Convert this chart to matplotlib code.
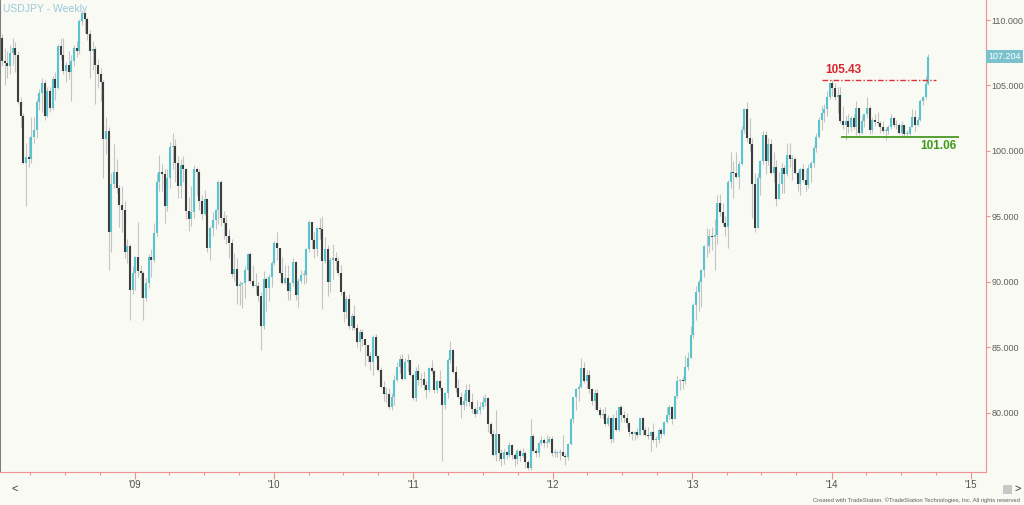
import numpy as np
import pandas as pd
import matplotlib
matplotlib.use("Agg")
import matplotlib.pyplot as plt
import matplotlib.dates as mdates
from matplotlib.ticker import FixedLocator, FuncFormatter

# weekly USDJPY bars (week ending Friday)
first_week = "2008-01-18"

opens = [
    # 2008
    108.6, 106.9, 106.7, 106.5, 107.5, 107.9, 107.3, 103.7, 102.7, 99.1, 99.5, 99.4, 101.1, 101.6, 103.7, 104.4, 105.2,
    102.7, 104.6, 103.3, 105.5, 104.8, 108.0, 107.3, 106.1, 106.6, 106.0, 106.9, 107.9, 107.6, 109.9, 110.5, 110.1,
    108.9, 107.6, 107.8, 106.6, 105.9, 105.3, 100.9, 101.5, 93.8, 97.5, 98.4, 97.2, 95.9, 95.5, 92.3, 92.7, 89.4,
    # 2009
    90.7, 91.9, 90.8, 90.7, 88.8, 89.9, 91.9, 91.7, 93.7, 97.6, 98.4, 98.2, 95.8, 97.9, 100.3, 100.4, 99.1, 97.3,
    98.9, 98.6, 95.4, 94.8, 95.3, 98.6, 98.4, 96.2, 95.2, 96.3, 92.6, 94.1, 94.7, 95.5, 97.6, 94.9, 94.5, 93.5, 93.0,
    90.6, 91.0, 89.7, 89.8, 89.9, 90.9, 92.1, 90.1, 89.7, 89.7, 88.9, 86.6, 90.2, 89.5, 90.4,
    # 2010
    91.4, 93.0, 92.6, 90.7, 89.9, 90.3, 89.3, 89.9, 91.5, 89.0, 90.1, 90.5, 90.5, 92.5, 94.6, 93.2, 92.5, 94.1, 94.0,
    91.6, 92.5, 90.0, 91.7, 91.8, 91.6, 90.7, 89.2, 87.7, 88.7, 86.6, 87.4, 86.5, 85.4, 86.2, 85.6, 85.2, 84.3, 83.9,
    85.8, 84.3, 83.3, 82.0, 81.4, 81.4, 80.4, 81.2, 82.5, 83.5, 84.1, 82.6, 83.9, 84.0, 82.9,
    # 2011
    81.1, 83.2, 82.5, 82.6, 82.1, 81.7, 83.4, 83.2, 81.7, 82.4, 81.9, 80.6, 81.5, 84.0, 84.8, 83.1, 81.9, 81.2, 80.6,
    80.9, 81.7, 80.8, 80.3, 79.9, 80.2, 80.4, 80.8, 81.1, 79.1, 78.4, 76.8, 78.4, 76.9, 76.5, 77.0, 76.8, 77.5, 76.8,
    76.5, 77.1, 76.7, 76.9, 76.2, 75.8, 78.2, 77.1, 76.9, 77.7, 77.9, 77.7, 77.8, 78.0,
    # 2012
    76.9, 76.9, 76.9, 77.0, 76.7, 76.6, 77.6, 79.5, 81.2, 81.8, 82.0, 83.4, 82.4, 82.9, 81.8, 80.9, 81.5, 80.2, 79.8,
    79.9, 79.1, 79.6, 78.0, 79.6, 78.7, 80.4, 79.8, 79.6, 79.2, 78.5, 78.4, 78.5, 78.3, 79.6, 78.7, 78.3, 78.2, 78.5,
    77.9, 77.9, 78.7, 78.4, 79.3, 79.8, 80.4, 79.5, 81.3, 82.4, 82.5, 82.4, 83.5, 84.2,
    # 2013
    85.9, 88.2, 89.2, 90.0, 90.9, 92.7, 92.7, 93.5, 93.4, 93.6, 96.0, 95.3, 94.5, 94.2, 97.6, 98.4, 98.3, 98.0, 99.0,
    101.6, 103.2, 101.0, 100.5, 97.5, 94.1, 97.9, 99.2, 101.2, 99.2, 100.5, 98.3, 98.8, 96.3, 97.5, 98.7, 98.2, 99.7,
    99.4, 99.4, 98.3, 97.5, 98.6, 97.8, 97.4, 98.7, 99.1, 100.2, 101.1, 102.4, 102.9, 103.2, 104.1,
    # 2014
    105.2, 104.8, 104.1, 104.3, 102.3, 102.0, 102.3, 101.8, 102.5, 101.8, 103.3, 101.4, 102.3, 102.8, 103.3, 101.6,
    102.4, 102.2, 102.1, 101.8, 101.5, 101.5, 101.8, 102.5, 102.0, 102.0, 101.4, 102.0, 101.3, 101.3, 101.8, 102.6,
    102.0, 102.4, 103.8, 104.1, 105.1,
]

highs = [
    # 2008
    108.9, 107.9, 107.6, 108.1, 108.6, 108.3, 107.6, 104.1, 102.9, 100.6, 101.1, 102.6, 102.6, 104.0, 104.7, 105.6, 105.4,
    104.9, 104.9, 105.7, 106.0, 108.2, 108.6, 108.6, 106.8, 107.6, 107.3, 108.1, 108.4, 110.1, 110.7, 110.6, 110.2,
    109.2, 108.4, 108.0, 107.0, 106.3, 105.4, 102.6, 101.8, 98.3, 100.5, 99.4, 97.4, 97.3, 96.2, 93.3, 92.9, 91.2,
    # 2009
    92.0, 94.6, 91.3, 90.8, 90.3, 92.1, 92.5, 94.5, 98.3, 99.7, 99.0, 98.6, 98.6, 100.7, 101.4, 100.9, 99.6, 99.4,
    99.6, 98.7, 96.5, 97.3, 98.9, 98.8, 98.6, 96.6, 97.0, 96.4, 94.3, 95.3, 95.6, 97.8, 97.8, 95.4, 95.1, 94.0, 93.3,
    92.2, 91.8, 90.1, 90.0, 91.2, 92.2, 92.3, 91.3, 90.7, 90.0, 89.2, 90.8, 90.4, 90.6, 91.6,
    # 2010
    93.1, 93.8, 92.6, 91.9, 91.3, 91.3, 90.0, 91.8, 91.6, 90.3, 90.9, 90.9, 92.6, 94.7, 94.6, 93.8, 94.2, 94.9, 95.0,
    93.4, 92.8, 91.9, 92.9, 92.3, 91.9, 91.3, 89.4, 88.9, 89.1, 87.6, 88.2, 86.8, 86.4, 86.4, 85.6, 85.2, 84.6, 85.9,
    86.0, 84.4, 83.5, 82.4, 82.0, 81.9, 81.5, 82.9, 83.9, 84.4, 84.5, 84.2, 84.5, 84.0, 83.0,
    # 2011
    83.5, 83.7, 83.0, 83.2, 82.4, 83.5, 84.0, 83.3, 82.5, 83.3, 82.0, 81.6, 84.2, 85.5, 84.9, 83.6, 82.6, 81.6, 81.5,
    82.2, 82.2, 81.5, 80.4, 81.0, 80.8, 81.3, 81.4, 81.2, 79.3, 78.7, 80.2, 78.3, 77.2, 77.2, 77.0, 77.8, 77.6, 76.9,
    77.2, 77.2, 77.3, 77.1, 76.4, 79.5, 78.4, 77.3, 77.8, 78.2, 78.1, 78.3, 78.2, 78.2,
    # 2012
    77.2, 77.1, 77.2, 78.3, 76.9, 77.7, 79.6, 81.2, 81.9, 82.2, 84.2, 83.9, 83.3, 83.3, 81.9, 81.8, 81.8, 80.4, 80.3,
    80.4, 79.8, 79.7, 79.9, 80.2, 80.5, 80.6, 80.1, 80.0, 79.3, 78.6, 78.6, 78.8, 79.6, 79.7, 78.9, 78.9, 78.6, 79.2,
    78.2, 78.8, 78.8, 79.4, 80.4, 80.6, 80.5, 81.3, 82.8, 82.6, 82.8, 84.4, 84.6, 86.6,
    # 2013
    88.4, 89.7, 90.2, 91.0, 92.8, 94.1, 94.0, 94.2, 94.8, 96.6, 96.7, 96.0, 95.0, 97.8, 99.9, 99.2, 99.9, 99.2, 101.9,
    103.3, 103.7, 102.5, 101.0, 98.3, 98.3, 99.3, 101.5, 101.5, 101.0, 100.9, 99.9, 99.3, 98.4, 99.1, 98.9, 100.6,
    100.6, 99.7, 99.5, 98.5, 98.7, 99.0, 98.6, 99.0, 99.2, 100.4, 101.4, 102.6, 103.4, 103.6, 104.6, 105.2,
    # 2014
    105.43, 105.2, 104.9, 104.9, 103.4, 102.7, 102.8, 102.7, 102.8, 103.8, 103.2, 102.7, 102.8, 104.1, 103.4, 102.6,
    102.8, 103.0, 102.3, 102.3, 101.8, 102.0, 102.8, 102.6, 102.4, 102.1, 102.3, 102.0, 101.6, 101.9, 103.2, 103.1,
    102.6, 104.0, 104.2, 105.7, 107.4,
]

lows = [
    # 2008
    106.5, 105.0, 105.6, 105.9, 106.6, 106.0, 103.6, 101.8, 99.0, 95.8, 98.8, 99.1, 100.6, 101.0, 103.1, 103.0, 102.4,
    102.6, 103.0, 103.1, 103.9, 104.7, 107.0, 105.9, 105.3, 105.5, 103.8, 106.5, 107.2, 107.4, 109.6, 109.0, 108.5,
    105.6, 106.2, 103.6, 104.8, 103.8, 97.9, 99.8, 90.9, 92.3, 97.2, 96.8, 94.2, 93.8, 91.8, 91.4, 87.1, 89.1,
    # 2009
    89.4, 90.4, 88.8, 87.1, 88.5, 89.5, 90.4, 91.5, 93.4, 96.9, 96.9, 94.5, 95.4, 97.2, 98.6, 97.6, 96.4, 96.4, 97.6,
    94.8, 93.9, 94.3, 94.9, 96.6, 95.5, 94.8, 95.1, 92.3, 91.7, 93.5, 94.0, 94.4, 94.3, 93.3, 92.9, 91.8, 90.4, 90.1,
    88.3, 88.2, 88.0, 88.8, 90.1, 89.9, 89.6, 89.1, 88.5, 84.8, 86.4, 87.8, 88.5, 89.6,
    # 2010
    91.3, 91.7, 90.6, 89.8, 89.8, 88.6, 88.6, 89.7, 88.6, 88.1, 89.9, 89.8, 89.9, 92.3, 92.5, 91.8, 92.0, 93.3, 87.9,
    91.4, 88.9, 89.2, 90.2, 90.9, 90.5, 89.0, 86.9, 87.2, 86.4, 86.3, 86.3, 85.0, 84.7, 85.1, 83.6, 83.9, 83.3, 82.9,
    84.2, 83.2, 81.9, 80.9, 80.8, 80.3, 80.2, 80.6, 82.4, 83.0, 82.5, 82.6, 83.2, 82.8, 81.0,
    # 2011
    80.9, 82.1, 82.0, 81.7, 81.1, 81.6, 83.0, 81.5, 81.5, 81.7, 76.3, 80.3, 81.1, 83.8, 83.0, 81.6, 81.1, 79.6, 80.2,
    80.5, 80.5, 80.0, 79.7, 80.0, 79.9, 80.3, 80.5, 78.5, 78.2, 76.7, 76.3, 76.3, 75.9, 76.1, 76.5, 76.6, 76.5, 75.9,
    76.1, 76.3, 76.6, 75.8, 75.6, 75.6, 77.0, 76.6, 76.6, 77.5, 77.4, 77.4, 77.7, 76.7,
    # 2012
    76.6, 76.6, 76.4, 76.7, 76.0, 76.4, 77.5, 79.2, 80.2, 80.9, 81.9, 82.3, 81.9, 81.5, 80.6, 80.3, 80.1, 79.6, 79.5,
    79.0, 79.0, 77.7, 77.8, 78.6, 78.6, 79.3, 79.3, 78.9, 78.2, 77.9, 77.9, 78.1, 78.3, 78.3, 78.2, 78.0, 77.1, 77.8,
    77.4, 77.7, 78.1, 78.3, 79.2, 79.5, 79.1, 79.5, 81.1, 81.7, 81.8, 82.2, 83.3, 84.2,
    # 2013
    85.7, 87.1, 87.8, 88.1, 90.4, 91.9, 92.2, 92.4, 90.9, 92.9, 95.0, 94.3, 93.5, 92.6, 97.2, 96.4, 97.9, 97.1, 98.9,
    101.4, 100.7, 100.0, 94.9, 93.8, 94.1, 96.6, 99.0, 98.2, 98.9, 98.2, 97.6, 95.8, 96.3, 96.8, 96.8, 98.1, 98.8,
    97.8, 98.2, 96.9, 96.6, 97.6, 96.9, 97.2, 97.6, 98.8, 99.9, 101.0, 101.6, 102.2, 102.7, 104.0,
    # 2014
    104.2, 103.9, 102.9, 102.1, 101.7, 100.8, 101.4, 101.5, 101.7, 101.2, 101.2, 101.3, 101.8, 102.6, 101.3, 101.4,
    101.9, 102.0, 101.4, 101.4, 100.8, 101.3, 101.7, 101.8, 101.7, 101.3, 101.2, 101.1, 101.1, 101.2, 101.8, 101.5,
    101.9, 102.3, 103.5, 104.0, 105.0,
]

closes = [
    # 2008
    106.9, 106.7, 106.5, 107.5, 107.9, 107.3, 103.7, 102.7, 99.1, 99.5, 99.4, 101.1, 101.6, 103.7, 104.4, 105.2, 102.7,
    104.6, 103.3, 105.5, 104.8, 108.0, 107.3, 106.1, 106.6, 106.0, 106.9, 107.9, 107.6, 109.9, 110.5, 110.1, 108.9,
    107.6, 107.8, 106.6, 105.9, 105.3, 100.9, 101.5, 93.8, 97.5, 98.4, 97.2, 95.9, 95.5, 92.3, 92.7, 89.4, 90.7,
    # 2009
    91.9, 90.8, 90.7, 88.8, 89.9, 91.9, 91.7, 93.7, 97.6, 98.4, 98.2, 95.8, 97.9, 100.3, 100.4, 99.1, 97.3, 98.9,
    98.6, 95.4, 94.8, 95.3, 98.6, 98.4, 96.2, 95.2, 96.3, 92.6, 94.1, 94.7, 95.5, 97.6, 94.9, 94.5, 93.5, 93.0, 90.6,
    91.0, 89.7, 89.8, 89.9, 90.9, 92.1, 90.1, 89.7, 89.7, 88.9, 86.6, 90.2, 89.5, 90.4, 91.4,
    # 2010
    93.0, 92.6, 90.7, 89.9, 90.3, 89.3, 89.9, 91.5, 89.0, 90.1, 90.5, 90.5, 92.5, 94.6, 93.2, 92.5, 94.1, 94.0, 91.6,
    92.5, 90.0, 91.7, 91.8, 91.6, 90.7, 89.2, 87.7, 88.7, 86.6, 87.4, 86.5, 85.4, 86.2, 85.6, 85.2, 84.3, 83.9, 85.8,
    84.3, 83.3, 82.0, 81.4, 81.4, 80.4, 81.2, 82.5, 83.5, 84.1, 82.6, 83.9, 84.0, 82.9, 81.1,
    # 2011
    83.2, 82.5, 82.6, 82.1, 81.7, 83.4, 83.2, 81.7, 82.4, 81.9, 80.6, 81.5, 84.0, 84.8, 83.1, 81.9, 81.2, 80.6, 80.9,
    81.7, 80.8, 80.3, 79.9, 80.2, 80.4, 80.8, 81.1, 79.1, 78.4, 76.8, 78.4, 76.9, 76.5, 77.0, 76.8, 77.5, 76.8, 76.5,
    77.1, 76.7, 76.9, 76.2, 75.8, 78.2, 77.1, 76.9, 77.7, 77.9, 77.7, 77.8, 78.0, 76.9,
    # 2012
    76.9, 76.9, 77.0, 76.7, 76.6, 77.6, 79.5, 81.2, 81.8, 82.0, 83.4, 82.4, 82.9, 81.8, 80.9, 81.5, 80.2, 79.8, 79.9,
    79.1, 79.6, 78.0, 79.6, 78.7, 80.4, 79.8, 79.6, 79.2, 78.5, 78.4, 78.5, 78.3, 79.6, 78.7, 78.3, 78.2, 78.5, 77.9,
    77.9, 78.7, 78.4, 79.3, 79.8, 80.4, 79.5, 81.3, 82.4, 82.5, 82.4, 83.5, 84.2, 85.9,
    # 2013
    88.2, 89.2, 90.0, 90.9, 92.7, 92.7, 93.5, 93.4, 93.6, 96.0, 95.3, 94.5, 94.2, 97.6, 98.4, 98.3, 98.0, 99.0, 101.6,
    103.2, 101.0, 100.5, 97.5, 94.1, 97.9, 99.2, 101.2, 99.2, 100.5, 98.3, 98.8, 96.3, 97.5, 98.7, 98.2, 99.7, 99.4,
    99.4, 98.3, 97.5, 98.6, 97.8, 97.4, 98.7, 99.1, 100.2, 101.1, 102.4, 102.9, 103.2, 104.1, 105.2,
    # 2014
    104.8, 104.1, 104.3, 102.3, 102.0, 102.3, 101.8, 102.5, 101.8, 103.3, 101.4, 102.3, 102.8, 103.3, 101.6, 102.4,
    102.2, 102.1, 101.8, 101.5, 101.5, 101.8, 102.5, 102.0, 102.0, 101.4, 102.0, 101.3, 101.3, 101.8, 102.6, 102.0,
    102.4, 103.8, 104.1, 105.1, 107.204,
]

# drawn levels
resistance = 105.43
resistance_span = ("2013-12-07", "2014-10-02")
support = 101.06
support_span = ("2014-01-28", "2014-11-29")

year_ticks = ["2009-01-01", "2010-01-01", "2011-01-01", "2012-01-01", "2013-01-01", "2014-01-01", "2015-01-01"]
year_labels = ["'09", "'10", "'11", "'12", "'13", "'14", "'15"]
price_ticks = [80, 85, 90, 95, 100, 105, 110]

o = np.array(opens); h = np.array(highs); l = np.array(lows); c = np.array(closes)
dates = pd.date_range(first_week, periods=len(c), freq="W-FRI")
x = mdates.date2num(dates)

BG = "#f8faf3"
UP = "#5bc3cf"
DOWN = "#3d3d3d"
WICK = "#c4c4c4"
PINK = "#f09090"
FONT = "Liberation Sans"

fig = plt.figure(figsize=(10.24, 5.05), dpi=100, facecolor=BG)
ax = fig.add_axes([0.0, 33 / 505, 986 / 1024, 472 / 505], facecolor=BG)

# wicks then bodies
ax.vlines(x, l, h, colors=WICK, linewidth=0.8, zorder=2)
body_lo = np.minimum(o, c)
body_hi = np.maximum(o, c)
body_hi = np.where(body_hi - body_lo < 0.07, body_lo + 0.07, body_hi)
cols = [UP if cc >= oo else DOWN for oo, cc in zip(o, c)]
ax.vlines(x, body_lo, body_hi, colors=cols, linewidth=1.5, zorder=3)

# support / resistance
rs = mdates.date2num(pd.to_datetime(list(resistance_span)))
ss = mdates.date2num(pd.to_datetime(list(support_span)))
ax.plot(rs, [resistance, resistance], color="#e0303a", lw=1.0,
        linestyle=(0, (4, 1.5, 1, 1.5)), zorder=4)
ax.plot(ss, [support, support], color="#55a030", lw=1.4, zorder=4)
ax.text(rs[0] + 8, resistance + 0.3, f"{resistance:.2f}", color="#d9252f",
        fontsize=8.5, fontweight="bold", family=FONT, va="bottom", ha="left")
ax.text(ss[1] - 5, support - 0.25, f"{support:.2f}", color="#3f9a1c",
        fontsize=8.5, fontweight="bold", family=FONT, va="top", ha="right")

ax.set_xlim(mdates.datestr2num("2008-01-13"), mdates.datestr2num("2015-02-10"))
ax.set_ylim(75.47, 111.53)

# axes styling
ax.spines["top"].set_visible(False)
ax.spines["right"].set_color(PINK)
ax.spines["bottom"].set_color(PINK)
ax.spines["left"].set_color("#808080")
ax.spines["left"].set_linewidth(1.5)

ax.yaxis.tick_right()
ax.yaxis.set_major_locator(FixedLocator(price_ticks))
ax.yaxis.set_major_formatter(FuncFormatter(lambda v, p: f"{v:.3f}"))
ax.tick_params(axis="y", which="major", direction="out", length=3, width=0.8,
               color=PINK, labelsize=6.5, labelcolor="#606060", pad=1)
for t in ax.get_yticklabels():
    t.set_family(FONT)

ax.xaxis.set_major_locator(FixedLocator(mdates.date2num(pd.to_datetime(year_ticks))))
ax.set_xticklabels(year_labels, family=FONT)
ax.xaxis.set_minor_locator(mdates.MonthLocator(bymonth=(4, 7, 10)))
ax.tick_params(axis="x", which="major", direction="out", length=5, width=0.8,
               color=PINK, labelsize=7, labelcolor="#505050", pad=1)
ax.tick_params(axis="x", which="minor", direction="out", length=2.5, width=0.8, color=PINK)

# last price tag
ax.text(1.002, c[-1], f"{c[-1]:.3f}", transform=ax.get_yaxis_transform(),
        fontsize=6.5, family=FONT, color="white", va="center", ha="left",
        bbox=dict(boxstyle="square,pad=0.25", fc="#7cc2ce", ec="none"), clip_on=False)

fig.text(3 / 1024, 1 - 9 / 505, "USDJPY - Weekly", fontsize=7.5, family=FONT, color="#9cc9da",
         va="center", ha="left")
fig.text(15 / 1024, 1 - 489 / 505, "<", fontsize=8, family=FONT, color="#333333", va="center", ha="center")
fig.text(1018 / 1024, 1 - 489 / 505, ">", fontsize=8, family=FONT, color="#333333", va="center", ha="center")
fig.patches.append(plt.Rectangle((1003 / 1024, 1 - 494 / 505), 9 / 1024, 9 / 505,
                                 transform=fig.transFigure, fc="#c8c8c8", ec="none"))
fig.text(1020 / 1024, 1 - 500 / 505,
         "Created with TradeStation. \u00a9TradeStation Technologies, Inc. All rights reserved",
         fontsize=4.2, family=FONT, color="#606060", va="center", ha="right")

fig.savefig("out.png", dpi=100, facecolor=BG)
